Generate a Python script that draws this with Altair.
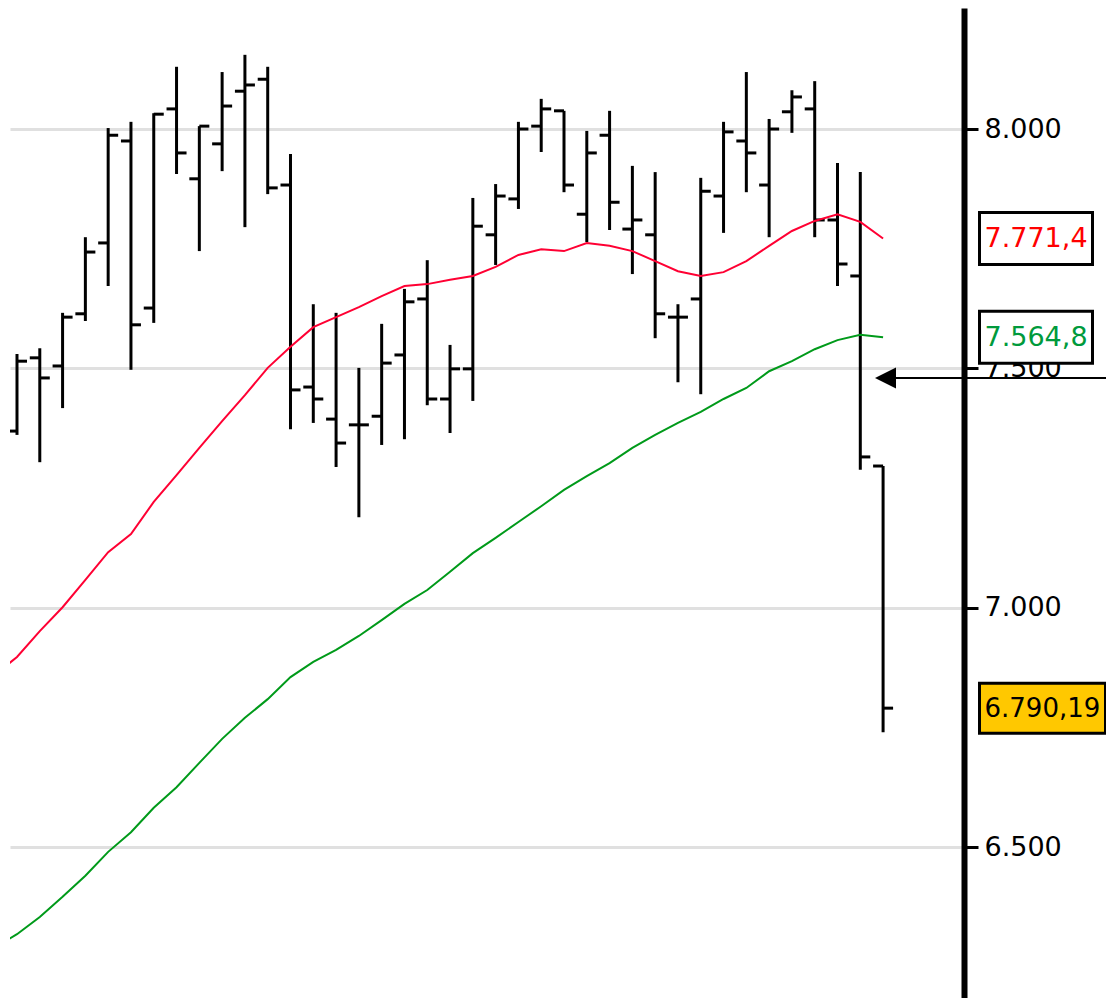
import altair as alt
import pandas as pd

# ---- data ----
bar_index = list(range(39))
opens = [7369, 7522, 7505, 7614, 7762, 7975, 7626, 8042, 7896, 7969, 8079, 8104, 7883,
         7461, 7394, 7382, 7400, 7528, 7645, 7436, 7499, 7779, 7854, 8006, 8038, 7822,
         7987, 7791, 7779, 7607, 7645, 7860, 7975, 7883, 8036, 8042, 7810, 7693, 7296]
highs = [7530, 7542, 7616, 7774, 8002, 8015, 8033, 8130, 8006, 8119, 8155, 8130, 7948,
         7634, 7616, 7501, 7593, 7666, 7726, 7549, 7856, 7885, 8015, 8063, 8038, 7996,
         8038, 7923, 7910, 7634, 7898, 8015, 8119, 8021, 8081, 8100, 7929, 7910, 7296]
lows = [7361, 7304, 7417, 7599, 7672, 7497, 7595, 7906, 7745, 7912, 7795, 7864, 7373,
        7386, 7294, 7189, 7340, 7352, 7423, 7365, 7432, 7716, 7833, 7952, 7868, 7764,
        7789, 7697, 7563, 7471, 7446, 7783, 7868, 7774, 7992, 7774, 7672, 7288, 6740]
closes = [7515, 7480, 7607, 7743, 7987, 7591, 8031, 7950, 8006, 8048, 8092, 7877, 7455,
          7436, 7344, 7382, 7511, 7639, 7436, 7499, 7797, 7860, 8000, 8042, 7883, 7950,
          7847, 7810, 7614, 7607, 7870, 7994, 7950, 8000, 8067, 7810, 7718, 7315, 6790.19]

ma_index = list(range(-1, 39))
ma_fast = [6859, 6897, 6951, 7001, 7058, 7116, 7154, 7221, 7277, 7334, 7390, 7444, 7501,
           7545, 7586, 7607, 7628, 7651, 7672, 7676, 7685, 7693, 7712, 7737, 7749, 7745,
           7762, 7756, 7745, 7724, 7703, 7693, 7701, 7724, 7756, 7787, 7808, 7822, 7806,
           7771.4]
ma_slow = [6289, 6318, 6354, 6396, 6440, 6490, 6531, 6582, 6625, 6676, 6726, 6770, 6809,
           6855, 6887, 6912, 6941, 6974, 7008, 7037, 7075, 7114, 7146, 7179, 7212, 7246,
           7275, 7302, 7334, 7361, 7386, 7409, 7436, 7459, 7494, 7515, 7540, 7559, 7570,
           7564.8]

tick_values = [6500, 7000, 7500, 8000]
label_texts = ["7.771,4", "7.564,8", "6.790,19"]
alarm_level = [7480]

# ---- tables ----
ohlc = pd.DataFrame({"i": bar_index, "open": opens, "high": highs, "low": lows, "close": closes})
ma = pd.DataFrame({"i": ma_index, "fast": ma_fast, "slow": ma_slow})

W, H = 954, 990
xscale = alt.Scale(domain=[-0.307, 41.55], nice=False, zero=False)
yscale = alt.Scale(domain=[6184.7, 8252.8], nice=False, zero=False)

yaxis = alt.Axis(
    orient="right", values=tick_values, format=",d",
    labelExpr="replace(datum.label, ',', '.')",
    grid=True, gridColor="#e0e0e0", gridWidth=3,
    domain=True, domainColor="black", domainWidth=6,
    ticks=True, tickColor="black", tickWidth=3, tickSize=14,
    labelFont="DejaVu Sans", labelFontSize=27, labelColor="black",
    labelPadding=6, labelFlush=False, labelOverlap=False, title=None,
)


def Y(field):
    return alt.Y(field, scale=yscale, axis=yaxis, title=None)


X = alt.X("i:Q", scale=xscale, axis=None)

hl = alt.Chart(ohlc).mark_rule(color="black", strokeWidth=3, clip=True).encode(
    x=X, y=Y("low:Q"), y2="high:Q")
op = alt.Chart(ohlc).mark_rule(color="black", strokeWidth=3, xOffset=-10, x2Offset=0,
                               clip=True).encode(x=X, x2="i:Q", y=Y("open:Q"))
cl = alt.Chart(ohlc).mark_rule(color="black", strokeWidth=3, xOffset=0, x2Offset=10,
                               clip=True).encode(x=X, x2="i:Q", y=Y("close:Q"))

fast = alt.Chart(ma).mark_line(color="#ff0033", strokeWidth=2, clip=True).encode(
    x=X, y=Y("fast:Q"))
slow = alt.Chart(ma).mark_line(color="#009a1a", strokeWidth=2, clip=True).encode(
    x=X, y=Y("slow:Q"))


def label_box(value, text, text_color, fill, x_left, x_right, half_h, size):
    d = pd.DataFrame({"v": [value], "t": [text]})
    box = alt.Chart(d).mark_rect(fill=fill, stroke="black", strokeWidth=3,
                                 yOffset=-half_h, y2Offset=half_h).encode(
        x=alt.value(x_left), x2=alt.value(x_right), y=Y("v:Q"), y2="v:Q")
    txt = alt.Chart(d).mark_text(align="left", baseline="middle", font="DejaVu Sans",
                                 fontSize=size, color=text_color, dy=1).encode(
        x=alt.value(x_left + 5), y=Y("v:Q"), text="t:N")
    return [box, txt]


layers = [hl, op, cl, fast, slow]
layers += label_box(ma_fast[-1], label_texts[0], "#ff0000", "white", 969.5, 1082.5, 26, 27)
layers += label_box(ma_slow[-1], label_texts[1], "#009a3c", "white", 969.5, 1082.5, 26, 27)
layers += label_box(closes[-1], label_texts[2], "black", "#ffc800", 969.5, 1095.5, 25, 26)

alarm = pd.DataFrame({"v": alarm_level})
arrow_line = alt.Chart(alarm).mark_rule(color="black", strokeWidth=2).encode(
    x=alt.value(884), x2=alt.value(1098), y=Y("v:Q"))
arrow_head = alt.Chart(alarm).mark_point(shape="M-1,0L1,-1L1,1Z", size=441, filled=True,
                                         color="black", opacity=1).encode(
    x=alt.value(875.5), y=Y("v:Q"))
layers += [arrow_line, arrow_head]

chart = alt.layer(*layers).properties(
    width=W, height=H,
    autosize=alt.AutoSizeParams(type="none"),
    padding={"left": 2, "top": 0, "right": 142, "bottom": 0},
    background="white",
).configure_view(stroke=None)

chart.save("out.html", embed_options={"renderer": "svg", "actions": False})
